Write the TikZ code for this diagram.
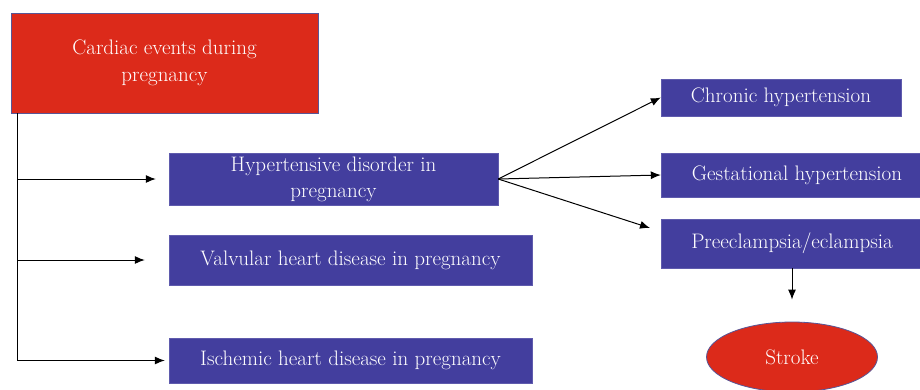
\documentclass[tikz,border=0pt]{standalone}
\usetikzlibrary{arrows.meta,shapes.geometric,calc}
\definecolor{boxblue}{RGB}{67,62,158}
\definecolor{boxred}{RGB}{220,42,26}
\definecolor{edgeblue}{RGB}{88,86,150}
\tikzset{
 bluebox/.style={rectangle,fill=boxblue,draw=boxblue!85!white,text=white,
   font=\fontsize{21}{26}\selectfont,align=center,inner sep=0pt},
 conn/.style={draw=black,line width=1pt,-{Latex[length=10pt,width=8pt]}}
}
\begin{document}
\begin{tikzpicture}[x=1pt,y=-1pt]
 \useasboundingbox (0,0) rectangle (920,389);
 % top box
 \node[rectangle,fill=boxred,draw=edgeblue,line width=0.8pt,text=white,
   font=\fontsize{21}{27}\selectfont,align=center,minimum width=307pt,minimum height=100pt]
   (card) at (164.5,63) {Cardiac events during\\pregnancy};
 % first column
 \node[bluebox,minimum width=329pt,minimum height=52pt]
   (hyp) at (333.5,179) {Hypertensive disorder in\\pregnancy};
 \node[bluebox,minimum width=363pt,minimum height=50pt] (valv) at (350.5,260) {Valvular heart disease in pregnancy};
 \node[bluebox,minimum width=363pt,minimum height=45pt] (isch) at (350.5,360.5) {Ischemic heart disease in pregnancy};
 % second column
 \node[bluebox,minimum width=240pt,minimum height=37pt] (chron) at (781,97.5) {Chronic hypertension};
 \node[bluebox,minimum width=272pt,minimum height=44pt] (gest) at (797,175) {Gestational hypertension};
 \node[bluebox,minimum width=262pt,minimum height=49pt] (pre) at (792,243.5) {Preeclampsia/eclampsia};
 \node[ellipse,fill=boxred,draw=edgeblue,line width=0.8pt,text=white,
   font=\fontsize{21}{26}\selectfont,minimum width=171pt,minimum height=70pt,inner sep=0pt]
   (stroke) at (792,357) {Stroke};
 % connectors
 \coordinate (trunk) at (17,113);
 \coordinate (preIn) at (650,228);
 \draw[conn,shorten >=4pt] (trunk) |- (isch.west);
 \draw[conn,shorten >=13pt] (trunk |- hyp.west) -- (hyp.west);
 \draw[conn,shorten >=24pt] (trunk |- valv.west) -- (valv.west);
 \draw[conn] (hyp.east) -- (chron.west);
 \draw[conn] (hyp.east) -- (gest.west);
 \draw[conn] (hyp.east) -- (preIn);
 \draw[conn,shorten >=22pt] (pre.south) -- (stroke.north);
\end{tikzpicture}
\end{document}
